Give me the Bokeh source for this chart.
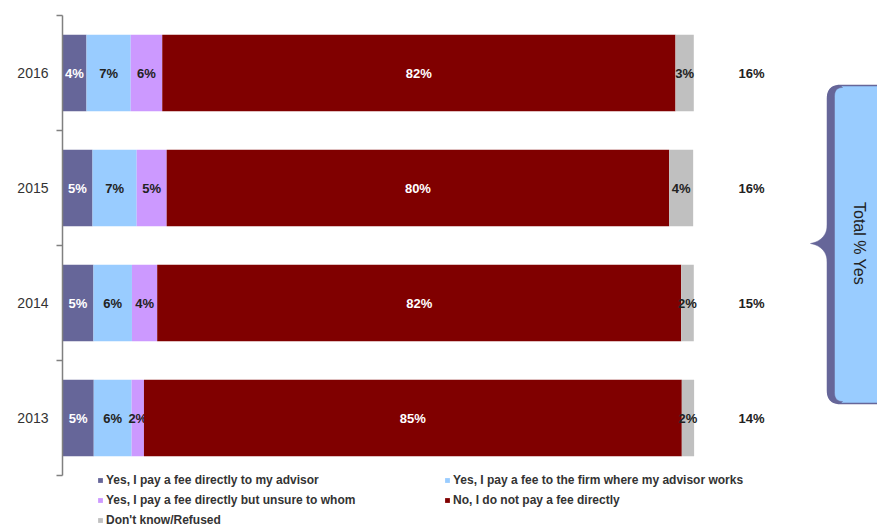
import numpy as np
from bokeh.plotting import figure
from bokeh.models import ColumnDataSource, Range1d, FixedTicker, Legend, LegendItem
from bokeh.core.properties import value
from bokeh.embed import file_html
from bokeh.resources import INLINE

# ---------------- data ----------------
years = ["2013", "2014", "2015", "2016"]
series_names = [
    "Yes, I pay a fee directly to my advisor",
    "Yes, I pay a fee to the firm where my advisor works",
    "Yes, I pay a fee directly but unsure to whom",
    "No, I do not pay a fee directly",
    "Don't know/Refused",
]
direct = [4.95, 4.9, 4.75, 3.8]
firm = [6.0, 6.1, 7.0, 7.0]
unsure = [1.95, 4.0, 4.75, 5.0]
no_fee = [85.2, 83.0, 79.6, 81.3]
dont_know = [1.95, 2.0, 3.8, 2.9]

direct_lbl = ["5%", "5%", "5%", "4%"]
firm_lbl = ["6%", "6%", "7%", "7%"]
unsure_lbl = ["2%", "4%", "5%", "6%"]
no_fee_lbl = ["85%", "82%", "80%", "82%"]
dont_know_lbl = ["2%", "2%", "4%", "3%"]
total_yes = ["14%", "15%", "16%", "16%"]
callout_text = "Total % Yes"

colors = ["#666699", "#99CCFF", "#CC99FF", "#800000", "#C0C0C0"]
label_colors = ["#FFFFFF", "#222222", "#222222", "#FFFFFF", "#222222"]

# ---------------- geometry ----------------
W, H = 877, 527
FL, FT = 62, 15                 # frame left / top borders
FRAME_W = W - FL
FRAME_H = H - FT
X_MAX = FRAME_W / 6.313         # ~6.31 px per percent
PX_PER_ROW = 115.0
Y1 = 4.5
Y0 = Y1 - FRAME_H / PX_PER_ROW


def px2x(px):
    return (px - FL) * X_MAX / FRAME_W


def py2y(py):
    return Y1 - (py - FT) / PX_PER_ROW


p = figure(width=W, height=H, output_backend="svg", toolbar_location=None,
           x_range=Range1d(0, X_MAX), y_range=Range1d(Y0, Y1),
           x_axis_location=None, y_axis_location="left",
           min_border_left=FL, min_border_right=0, min_border_top=FT,
           min_border_bottom=0, background_fill_color="white",
           border_fill_color="white")
p.outline_line_color = None
p.xgrid.visible = False
p.ygrid.visible = False

ypos = list(range(1, len(years) + 1))
ax = p.yaxis[0]
ax.bounds = (ypos[0] - 0.5, ypos[-1] + 0.5)
ax.ticker = FixedTicker(ticks=ypos, minor_ticks=[y - 0.5 for y in ypos] + [ypos[-1] + 0.5])
ax.major_label_overrides = {y: lab for y, lab in zip(ypos, years)}
ax.major_tick_out = 0
ax.major_tick_in = 0
ax.minor_tick_out = 6
ax.minor_tick_in = 0
ax.minor_tick_line_color = "#808080"
ax.axis_line_color = "#808080"
ax.axis_line_width = 1.5
ax.minor_tick_line_width = 1.5
ax.major_label_standoff = 8
ax.major_label_text_font = "Liberation Sans"
ax.major_label_text_font_size = "14px"
ax.major_label_text_color = "#333333"

series = [direct, firm, unsure, no_fee, dont_know]
labels = [direct_lbl, firm_lbl, unsure_lbl, no_fee_lbl, dont_know_lbl]
left = np.zeros(len(years))
renderers = []
for vals, lbls, col, tcol in zip(series, labels, colors, label_colors):
    vals = np.array(vals)
    right = left + vals
    src = ColumnDataSource(dict(y=ypos, left=left, right=right,
                                mid=(left + right) / 2, label=lbls))
    r = p.hbar(y="y", left="left", right="right", height=0.665, source=src,
               fill_color=col, line_color=None)
    renderers.append(r)
    p.text(x="mid", y="y", text="label", source=src, text_align="center",
           text_baseline="middle", text_font=value("Liberation Sans"),
           text_font_style="bold", text_font_size="13px", text_color=tcol)
    left = right

# total % yes column
tsrc = ColumnDataSource(dict(y=ypos, x=[px2x(751)] * len(ypos), t=total_yes))
p.text(x="x", y="y", text="t", source=tsrc, text_align="center",
       text_baseline="middle", text_font=value("Liberation Sans"),
       text_font_style="bold", text_font_size="13px", text_color="#222222")


# ---------------- callout ----------------
def qbez(p0, c, p1, n=12):
    t = np.linspace(0, 1, n)[:, None]
    pts = (1 - t) ** 2 * np.array(p0) + 2 * (1 - t) * t * np.array(c) + t ** 2 * np.array(p1)
    return [tuple(q) for q in pts]


def rrect(x0, y0, x1, y1, r):
    pts = []
    pts += qbez((x0, y0 + r), (x0, y0), (x0 + r, y0))
    pts += qbez((x1 - r, y0), (x1, y0), (x1, y0 + r))
    pts += qbez((x1, y1 - r), (x1, y1), (x1 - r, y1))
    pts += qbez((x0 + r, y1), (x0, y1), (x0, y1 - r))
    return pts


box = rrect(827, 85, 910, 403, 13)
p.patch([px2x(a) for a, b in box], [py2y(b) for a, b in box],
        fill_color="#99CCFF", line_color="#666699", line_width=1.5)

brace = []
brace += qbez((840, 85), (827, 85), (827, 98))
brace += [(827, 224)]
brace += qbez((827, 224), (826, 240), (810, 243))
brace += qbez((810, 243), (826, 246), (827, 262))
brace += [(827, 390)]
brace += qbez((827, 390), (827, 403), (840, 403))
brace += qbez((842, 401), (834, 401), (834, 392))
brace += [(834, 96)]
brace += qbez((834, 96), (834, 87), (842, 87))
p.patch([px2x(a) for a, b in brace], [py2y(b) for a, b in brace],
        fill_color="#666699", line_color="#666699", line_width=0.5)

p.text(x=[px2x(859)], y=[py2y(243)], text=[callout_text], angle=-np.pi / 2,
       text_align="center", text_baseline="middle",
       text_font=value("Liberation Sans"), text_font_size="16px",
       text_color="#222222")

# ---------------- legend ----------------
# two columns, filled column by column: (1, 3, 5) then (2, 4)
order = [0, 2, 4, 1, 3]
items = [LegendItem(label=series_names[i], renderers=[renderers[i]]) for i in order]
legend = Legend(items=items, location=(35, 0), orientation="vertical", nrows=3,
                glyph_width=6, glyph_height=6, label_height=13, label_width=332,
                label_standoff=3, spacing=6, padding=0, margin=0,
                label_text_font="Liberation Sans", label_text_font_style="bold",
                label_text_font_size="12px", label_text_color="#333333",
                border_line_color=None, background_fill_alpha=0)
p.add_layout(legend, "center")

open("out.html", "w").write(file_html(p, INLINE))
